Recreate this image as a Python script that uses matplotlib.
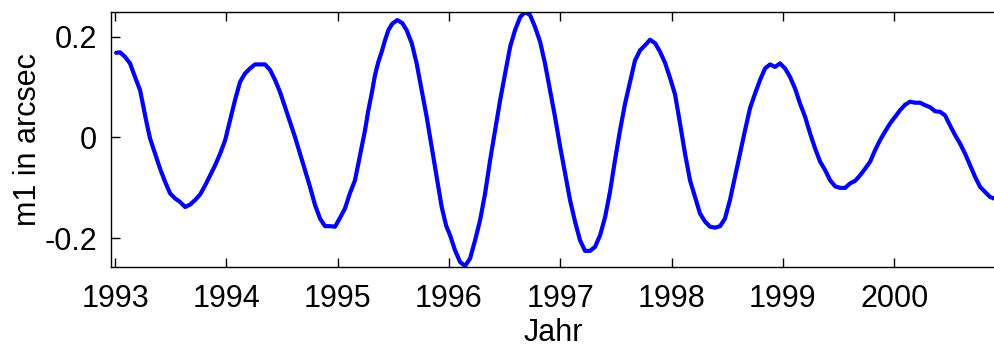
import matplotlib
matplotlib.use("Agg")
import matplotlib.pyplot as plt

plt.rcParams['font.family'] = ['Liberation Sans', 'DejaVu Sans']
plt.rcParams['axes.unicode_minus'] = False

year = [1993.01, 1993.045, 1993.09, 1993.135, 1993.18, 1993.225, 1993.255, 1993.285, 1993.315,
        1993.36, 1993.405, 1993.45, 1993.495, 1993.54, 1993.585, 1993.63, 1993.675, 1993.72,
        1993.765, 1993.81, 1993.855, 1993.90, 1993.945, 1993.99, 1994.033, 1994.078, 1994.123,
        1994.168, 1994.213, 1994.258, 1994.303, 1994.348, 1994.393, 1994.438, 1994.483, 1994.527,
        1994.572, 1994.617, 1994.662, 1994.707, 1994.752, 1994.797, 1994.842, 1994.887, 1994.932,
        1994.977, 1995.02, 1995.066, 1995.11, 1995.156, 1995.186, 1995.216, 1995.246, 1995.276,
        1995.306, 1995.336, 1995.366, 1995.396, 1995.426, 1995.456, 1995.492, 1995.537, 1995.581,
        1995.62, 1995.666, 1995.71, 1995.755, 1995.80, 1995.845, 1995.89, 1995.935, 1995.975,
        1996.01, 1996.055, 1996.10, 1996.145, 1996.19, 1996.235, 1996.28, 1996.325, 1996.37,
        1996.415, 1996.46, 1996.505, 1996.55, 1996.594, 1996.64, 1996.684, 1996.729, 1996.774,
        1996.819, 1996.863, 1996.908, 1996.953, 1996.998, 1997.043, 1997.088, 1997.133, 1997.178,
        1997.223, 1997.268, 1997.313, 1997.358, 1997.403, 1997.447, 1997.492, 1997.537, 1997.582,
        1997.627, 1997.672, 1997.717, 1997.762, 1997.807, 1997.852, 1997.897, 1997.942, 1997.987,
        1998.032, 1998.076, 1998.121, 1998.166, 1998.211, 1998.256, 1998.301, 1998.346, 1998.391,
        1998.436, 1998.48, 1998.525, 1998.57, 1998.615, 1998.66, 1998.705, 1998.75, 1998.795,
        1998.84, 1998.885, 1998.93, 1998.975, 1999.02, 1999.065, 1999.11, 1999.155, 1999.20,
        1999.245, 1999.29, 1999.335, 1999.38, 1999.425, 1999.47, 1999.515, 1999.56, 1999.605,
        1999.65, 1999.694, 1999.739, 1999.784, 1999.829, 1999.874, 1999.919, 1999.964, 2000.008,
        2000.053, 2000.098, 2000.143, 2000.188, 2000.233, 2000.278, 2000.323, 2000.368, 2000.412,
        2000.457, 2000.502, 2000.547, 2000.592, 2000.637, 2000.682, 2000.727, 2000.772, 2000.817,
        2000.861, 2000.897]

m1 = [0.168, 0.169, 0.160, 0.147, 0.120, 0.094, 0.061, 0.028, -0.002,
      -0.032, -0.062, -0.088, -0.111, -0.121, -0.128, -0.138, -0.133, -0.124,
      -0.113, -0.095, -0.075, -0.055, -0.032, -0.005, 0.034, 0.074, 0.110,
      0.127, 0.137, 0.145, 0.145, 0.145, 0.134, 0.114, 0.090, 0.061,
      0.031, 0.001, -0.032, -0.065, -0.098, -0.134, -0.161, -0.176, -0.176,
      -0.177, -0.160, -0.141, -0.111, -0.085, -0.052, -0.019, 0.014, 0.054,
      0.087, 0.124, 0.150, 0.170, 0.193, 0.213, 0.226, 0.233, 0.227,
      0.213, 0.187, 0.147, 0.094, 0.041, -0.019, -0.078, -0.138, -0.175,
      -0.194, -0.224, -0.247, -0.255, -0.240, -0.204, -0.164, -0.111, -0.045,
      0.014, 0.074, 0.127, 0.180, 0.213, 0.239, 0.249, 0.243, 0.219,
      0.190, 0.147, 0.094, 0.041, -0.017, -0.071, -0.124, -0.167, -0.204,
      -0.225, -0.225, -0.217, -0.194, -0.158, -0.108, -0.045, 0.014, 0.067,
      0.110, 0.153, 0.173, 0.183, 0.194, 0.187, 0.170, 0.148, 0.118,
      0.085, 0.028, -0.032, -0.085, -0.118, -0.151, -0.167, -0.177, -0.179,
      -0.176, -0.161, -0.124, -0.078, -0.032, 0.014, 0.058, 0.087, 0.114,
      0.137, 0.145, 0.140, 0.147, 0.137, 0.120, 0.097, 0.067, 0.041,
      0.008, -0.022, -0.048, -0.065, -0.085, -0.097, -0.100, -0.100, -0.091,
      -0.086, -0.075, -0.062, -0.048, -0.025, -0.005, 0.012, 0.028, 0.041,
      0.054, 0.065, 0.071, 0.069, 0.069, 0.064, 0.060, 0.052, 0.051,
      0.044, 0.024, 0.005, -0.012, -0.032, -0.055, -0.078, -0.098, -0.108,
      -0.118, -0.121]

xticks = [1993, 1994, 1995, 1996, 1997, 1998, 1999, 2000]
yticks = [-0.2, 0, 0.2]
yticklabels = ['-0.2', '0', '0.2']

fig = plt.figure(figsize=(9.94, 3.48), dpi=100)
ax = fig.add_axes([111/994, 81/348, 885/994, 255/348])
ax.plot(year, m1, color=(0, 0, 1), lw=3.0, solid_joinstyle='round', solid_capstyle='round')
ax.set_xlim(1992.964, 2000.915)
ax.set_ylim(-0.257, 0.249)
ax.set_xticks(xticks)
ax.set_xticklabels([str(t) for t in xticks])
ax.set_yticks(yticks)
ax.set_yticklabels(yticklabels)
ax.tick_params(direction='in', length=6.5, width=1.0, labelsize=22, top=True, right=False,
               colors='black')
ax.tick_params(axis='x', pad=12)
ax.tick_params(axis='y', pad=10)
for s in ax.spines.values():
    s.set_linewidth(1.0)
ax.set_xlabel('Jahr', fontsize=22, labelpad=3)
ax.set_ylabel('m1 in arcsec', fontsize=22, labelpad=1)
fig.savefig('out.png', dpi=100)
